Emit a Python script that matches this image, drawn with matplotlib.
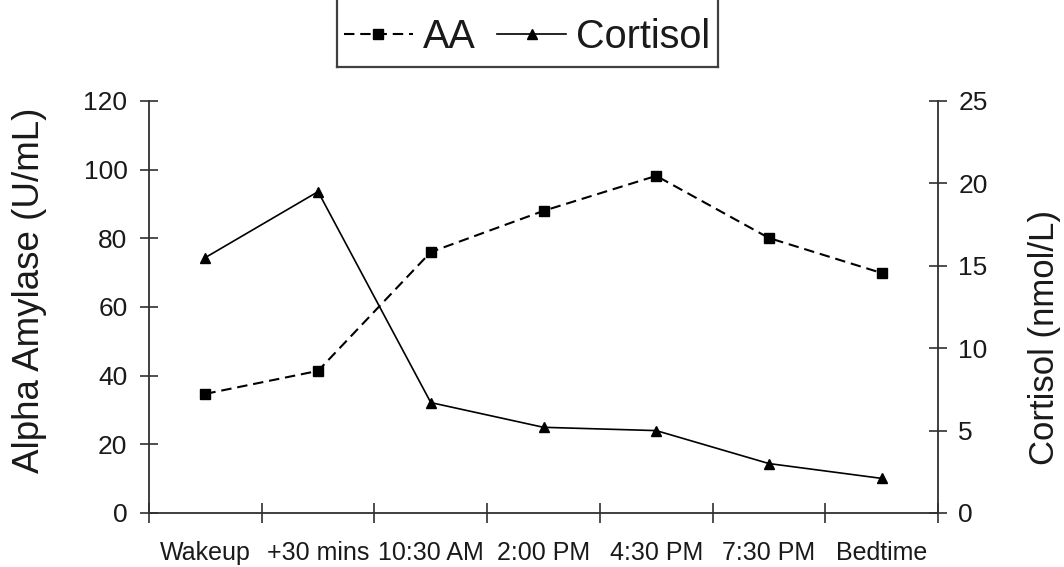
import matplotlib
matplotlib.use("Agg")
import matplotlib.pyplot as plt
from matplotlib.lines import Line2D

plt.rcParams['font.family'] = ['Liberation Sans', 'DejaVu Sans']

times = ["Wakeup", "+30 mins", "10:30 AM", "2:00 PM", "4:30 PM", "7:30 PM", "Bedtime"]
aa = [34.7, 41.4, 76.0, 88.0, 98.2, 80.1, 69.9]          # U/mL, left axis
cortisol = [15.5, 19.5, 6.7, 5.2, 5.0, 3.0, 2.1]         # nmol/L, right axis

left_ticks = [0, 20, 40, 60, 80, 100, 120]
right_ticks = [0, 5, 10, 15, 20, 25]

W, H = 1064, 567
fig = plt.figure(figsize=(W / 100, H / 100), dpi=100)
ax = fig.add_axes([149 / W, 1 - 513 / H, (938 - 149) / W, (513 - 101) / H])
ax2 = ax.twinx()

x = list(range(len(times)))
spine_c = '#303030'
text_c = '#1a1a1a'

l1, = ax.plot(x, aa, color='black', lw=1.5, dashes=(5, 2.8), marker='s', ms=6.5,
              label='AA', zorder=3)
l2, = ax2.plot(x, cortisol, color='black', lw=1.2, marker='^', ms=7.5,
               label='Cortisol', zorder=3)

ax.set_xlim(-0.5, len(times) - 0.5)
ax.set_ylim(0, 120)
ax2.set_ylim(0, 25)

for a in (ax, ax2):
    a.spines['top'].set_visible(False)
    for s in a.spines.values():
        s.set_color(spine_c)
        s.set_linewidth(1.3)
ax.spines['right'].set_visible(False)
ax2.spines['left'].set_visible(False)
ax2.spines['bottom'].set_visible(False)

# category boundaries carry the tick marks, the labels sit in between
ax.set_xticks([i - 0.5 for i in range(len(times) + 1)])
ax.set_xticklabels([])
ax.set_xticks(x, minor=True)
ax.set_xticklabels(times, minor=True)
ax.tick_params(axis='x', which='major', direction='inout', length=14, width=1.2, color=spine_c)
ax.tick_params(axis='x', which='minor', length=0, pad=20, labelsize=18, labelcolor=text_c)

ax.set_yticks(left_ticks)
ax.tick_params(axis='y', direction='inout', length=13, width=1.2, color=spine_c,
               pad=9, labelsize=19, labelcolor=text_c)
ax2.set_yticks(right_ticks)
ax2.tick_params(axis='y', direction='inout', length=13, width=1.2, color=spine_c,
                pad=8, labelsize=19, labelcolor=text_c)

ax.set_ylabel("Alpha Amylase (U/mL)", fontsize=26.5, color=text_c, va='center', ha='center')
ax.yaxis.set_label_coords(-0.151, 0.541)
ax2.set_ylabel("Cortisol (nmol/L)", fontsize=25, color=text_c, va='center', ha='center',
               rotation=90)
ax2.yaxis.set_label_coords(1.135, 0.427)

leg = fig.legend([l1, l2], ['AA', 'Cortisol'], loc='center',
                 bbox_to_anchor=(527 / W, 1 - 37 / H), ncol=2, frameon=False,
                 fontsize=28.5, handlelength=1.75, handletextpad=0.25, columnspacing=0.55,
                 labelcolor=text_c)

# legend frame: the top edge is cropped off in the original picture
fx0, fx1, fy = 337 / W, 718 / W, 1 - 67 / H
for xs, ys in [([fx0, fx0], [1.01, fy]), ([fx0, fx1], [fy, fy]), ([fx1, fx1], [fy, 1.01])]:
    fig.add_artist(Line2D(xs, ys, transform=fig.transFigure, color='#404040', lw=1.6))

fig.savefig("out.png", dpi=100)
